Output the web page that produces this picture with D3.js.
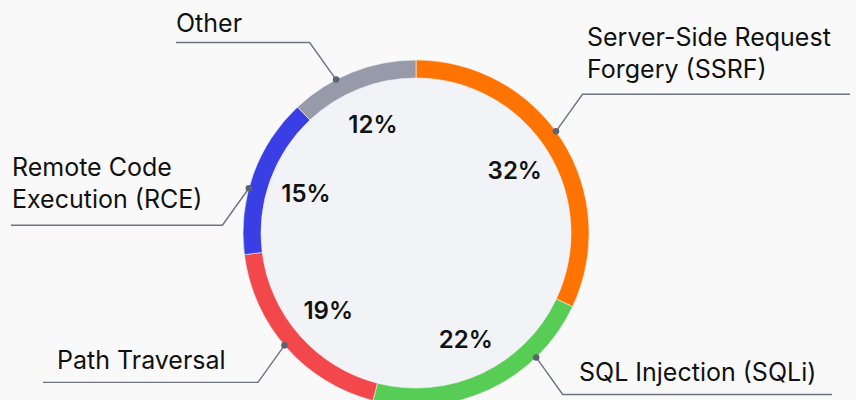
<!DOCTYPE html>
<html>
<head>
<meta charset="utf-8">
<script src="https://cdn.jsdelivr.net/npm/d3@7"></script>
<style>
  html, body { margin: 0; padding: 0; background: #f9f9fa; }
  svg { display: block; font-family: Inter, "Noto Sans", sans-serif; }
</style>
</head>
<body>
<svg id="donut" width="856" height="400"></svg>
<script>
// Data
const categories = ["Server-Side Request Forgery (SSRF)", "SQL Injection (SQLi)", "Path Traversal", "Remote Code Execution (RCE)", "Other"];
const shares = [32, 22, 19, 15, 12];
const labelLines = [["Server-Side Request", "Forgery (SSRF)"], ["SQL Injection (SQLi)"], ["Path Traversal"], ["Remote Code", "Execution (RCE)"], ["Other"]];
const colors = ["#ff7300", "#57cd56", "#f2474b", "#3a3fe5", "#979ba9"];

// Leader line layout (angle in degrees from 12 o'clock where the line leaves the ring)
const leaderAngle = [54, 136, 229.5, 285, 332.5];
const leaderDirY = [-1, 1, 1, 1, -1];
const leaderEndX = [850, 832, 43, 11, 176];
const labelX = [587, 579, 57, 12, 176];
const labelGap = [16, 13, 13, 17, 11];

const dimensions = { width: 856, height: 400, cx: 416, cy: 233, outer: 173, inner: 155 };

const data = categories.map((c, i) => ({ name: c, value: shares[i], lines: labelLines[i], i: i }));

const svg = d3.select("#donut");
const g = svg.append("g").attr("transform", `translate(${dimensions.cx},${dimensions.cy})`);

// Inner fill
g.append("circle")
  .attr("r", dimensions.inner)
  .attr("fill", "#f2f3f6");

const pie = d3.pie().value(d => d.value).sort(null);
const arcs = pie(data);

const arc = d3.arc().innerRadius(dimensions.inner).outerRadius(dimensions.outer);

g.selectAll(".slice")
  .data(arcs)
  .enter()
  .append("path")
  .attr("class", "slice")
  .attr("d", arc)
  .attr("fill", d => colors[d.data.i])
  .attr("stroke", "#f2f3f6")
  .attr("stroke-width", 0.6);

// Percent labels
const labelArc = d3.arc().innerRadius(117).outerRadius(117);
g.selectAll(".pct")
  .data(arcs)
  .enter()
  .append("text")
  .attr("class", "pct")
  .attr("x", d => labelArc.centroid(d)[0])
  .attr("y", d => labelArc.centroid(d)[1])
  .attr("text-anchor", "middle")
  .attr("dy", "0.36em")
  .style("font-size", "24px")
  .style("font-weight", 600)
  .style("fill", "#111")
  .text(d => d.data.value + "%");

// Leader lines
const leaders = data.map((d, i) => {
  const a = leaderAngle[i] * Math.PI / 180;
  const px = Math.sin(a) * dimensions.outer;
  const py = -Math.cos(a) * dimensions.outer;
  const sx = px >= 0 ? 1 : -1;
  const ex = px + sx * 26.5;
  const ey = py + leaderDirY[i] * 37;
  return { d: d, px: px, py: py, ex: ex, ey: ey, endX: leaderEndX[i] - dimensions.cx };
});

g.selectAll(".leader")
  .data(leaders)
  .enter()
  .append("polyline")
  .attr("class", "leader")
  .attr("points", l => `${l.px},${l.py} ${l.ex},${l.ey} ${l.endX},${l.ey}`)
  .attr("fill", "none")
  .attr("stroke", "#6c7380")
  .attr("stroke-width", 1.4);

g.selectAll(".dot")
  .data(leaders)
  .enter()
  .append("circle")
  .attr("class", "dot")
  .attr("cx", l => l.px)
  .attr("cy", l => l.py)
  .attr("r", 3.3)
  .attr("fill", "#5b6270");

// Category labels
const names = g.selectAll(".name")
  .data(leaders)
  .enter()
  .append("text")
  .attr("class", "name")
  .style("font-size", "25px")
  .style("fill", "#111");

names.each(function(l, i) {
  const t = d3.select(this);
  const n = l.d.lines.length;
  l.d.lines.forEach((line, k) => {
    t.append("tspan")
      .attr("x", labelX[i] - dimensions.cx)
      .attr("y", l.ey - labelGap[i] - (n - 1 - k) * 32)
      .text(line);
  });
});
</script>
</body>
</html>
